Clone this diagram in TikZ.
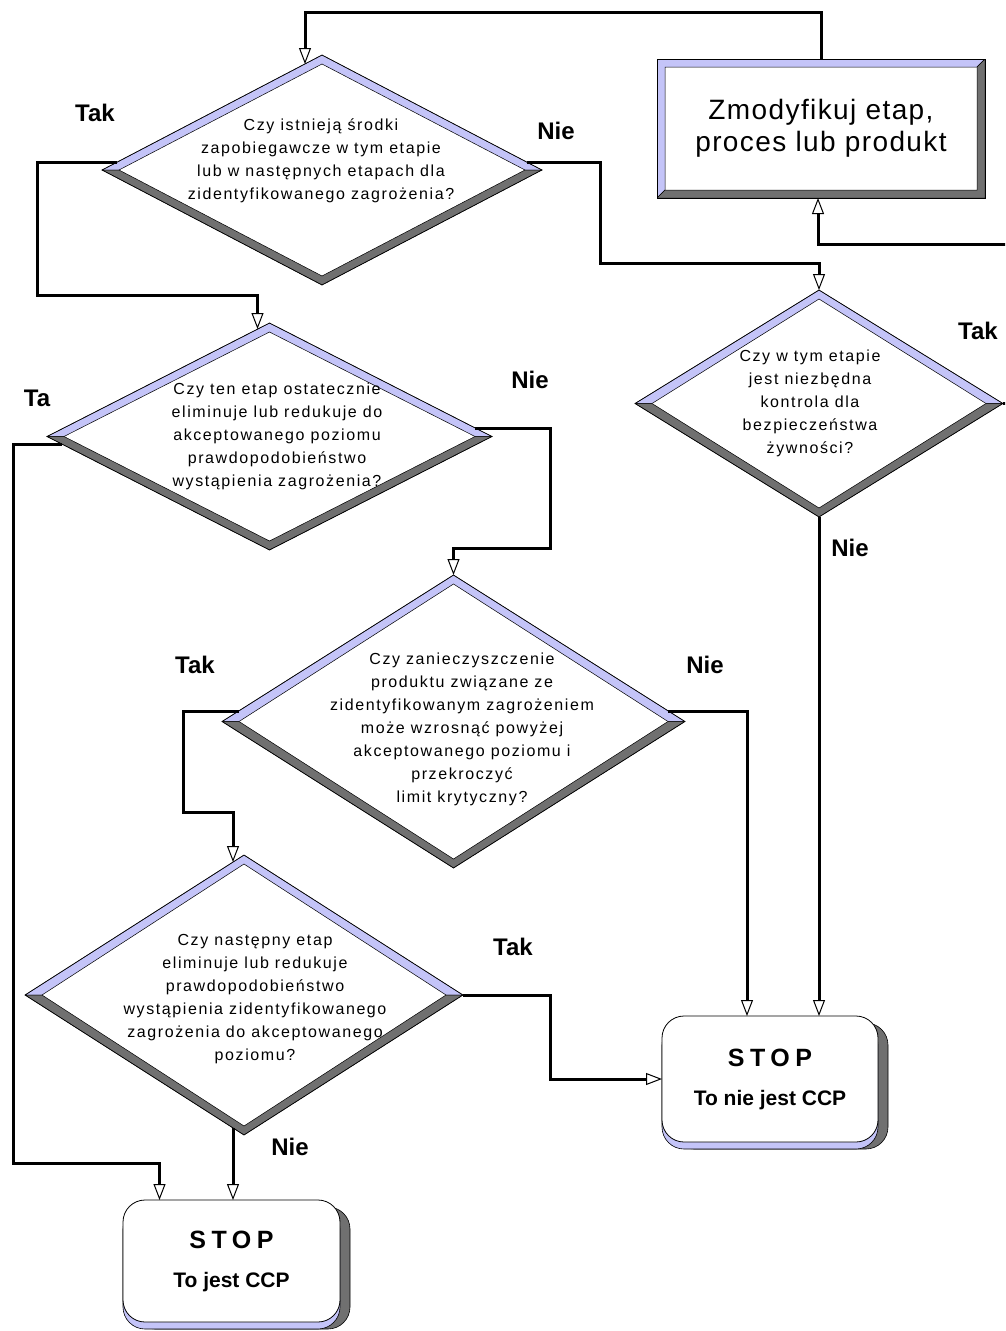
\documentclass[tikz,border=0pt]{standalone}
\usepackage{fontspec}
\setmainfont{Liberation Sans}
\newfontfamily\qfont[LetterSpace=10]{Liberation Sans}
\newfontfamily\boxfont[LetterSpace=5]{Liberation Sans}
\newfontfamily\stopfont[LetterSpace=22]{Liberation Sans}
\usetikzlibrary{arrows.meta, shapes.geometric, calc, positioning}
\definecolor{bevelBlue}{HTML}{C4C4F8}
\definecolor{bevelGrey}{HTML}{707070}
\tikzset{
  flow/.style     = {-{Triangle[open, length=16pt, width=12pt, line width=1pt]},
                     line width=3pt, black},
  decision/.style = {diamond, draw=black, line width=0.7pt, fill=white,
                     inner sep=0pt, outer sep=0pt,
                     path picture={
                       \path (path picture bounding box.north) coordinate (dN)
                             (path picture bounding box.east)  coordinate (dE)
                             (path picture bounding box.south) coordinate (dS)
                             (path picture bounding box.west)  coordinate (dW);
                       \filldraw[fill=bevelBlue, draw=black, line width=0.5pt]
                         (dW) -- (dN) -- (dE) -- ([xshift=-17pt]dE)
                         -- ([yshift=-9pt]dN) -- ([xshift=17pt]dW) -- cycle;
                       \filldraw[fill=bevelGrey, draw=black, line width=0.5pt]
                         (dW) -- (dS) -- (dE) -- ([xshift=-17pt]dE)
                         -- ([yshift=9pt]dS) -- ([xshift=17pt]dW) -- cycle;}},
  modbox/.style   = {rectangle, draw=black, line width=0.7pt, fill=white,
                     inner sep=0pt, outer sep=0pt, align=center,
                     font=\boxfont\fontsize{28}{32}\selectfont,
                     path picture={
                       \path (path picture bounding box.north west) coordinate (bNW)
                             (path picture bounding box.north east) coordinate (bNE)
                             (path picture bounding box.south east) coordinate (bSE)
                             (path picture bounding box.south west) coordinate (bSW);
                       \filldraw[fill=bevelBlue, draw=black, line width=0.5pt]
                         (bSW) -- (bNW) -- (bNE) -- ([shift={(-8pt,-8pt)}]bNE)
                         -- ([shift={(8pt,-8pt)}]bNW) -- ([shift={(8pt,8pt)}]bSW) -- cycle;
                       \filldraw[fill=bevelGrey, draw=black, line width=0.5pt]
                         (bSW) -- (bSE) -- (bNE) -- ([shift={(-8pt,-8pt)}]bNE)
                         -- ([shift={(-8pt,8pt)}]bSE) -- ([shift={(8pt,8pt)}]bSW) -- cycle;}},
  stopbox/.style  = {rectangle, rounded corners=22pt, draw=black, line width=0.8pt,
                     fill=white, inner sep=0pt, outer sep=0pt, align=center,
                     font=\fontsize{25}{28}\selectfont,
                     preaction={draw=black, line width=0.6pt, fill=bevelGrey,
                                transform canvas={shift={(10pt,-7pt)}}},
                     preaction={draw=black, line width=0.6pt, fill=bevelBlue,
                                transform canvas={shift={(0pt,-7pt)}}}},
  qtext/.style    = {font=\qfont\fontsize{16}{23}\selectfont, align=center, inner sep=0pt},
  lbl/.style      = {font=\bfseries\fontsize{24}{28}\selectfont, inner sep=0pt},
}

\begin{document}
\begin{tikzpicture}[x=1pt, y=-1pt]
  \fill[white] (0,0) rectangle (1005,1331);
  \useasboundingbox (0,0) rectangle (1005,1331);
  \clip (0,0) rectangle (1005,1331);

  % decisions
  \node[decision, minimum width=440pt, minimum height=230pt] (q1) at (322,170) {};
  \node[decision, minimum width=445pt, minimum height=227pt] (q2) at (269.5,436.5) {};
  \node[decision, minimum width=368pt, minimum height=227pt] (q3) at (819,403.5) {};
  \node[decision, minimum width=463pt, minimum height=293pt] (q4) at (453.5,721.5) {};
  \node[decision, minimum width=438pt, minimum height=280pt] (q5) at (244,995) {};

  \node[qtext] (q1txt) at (321,161) {Czy istnieją środki\\zapobiegawcze w tym etapie\\
    lub w  następnych etapach dla\\zidentyfikowanego zagrożenia?};
  \node[qtext] (q2txt) at (277,436.5) {Czy ten etap ostatecznie\\eliminuje lub redukuje do\\
    akceptowanego poziomu\\prawdopodobieństwo\\wystąpienia zagrożenia?};
  \node[qtext] (q3txt) at (810,403) {Czy w tym etapie\\jest niezbędna\\kontrola dla\\
    bezpieczeństwa\\żywności?};
  \node[qtext] (q4txt) at (462,729) {Czy zanieczyszczenie\\produktu związane ze\\
    zidentyfikowanym zagrożeniem\\może wzrosnąć powyżej\\akceptowanego poziomu i\\
    przekroczyć\\limit krytyczny?};
  \node[qtext] (q5txt) at (255,999) {Czy następny etap\\eliminuje lub redukuje\\
    prawdopodobieństwo\\wystąpienia zidentyfikowanego\\zagrożenia do akceptowanego\\
    poziomu?};

  % actions and ends
  \node[modbox, minimum width=328pt, minimum height=139pt] (mod) at (821,128.5)
    {Zmodyfikuj etap,\\proces lub produkt};
  \node[stopbox, minimum width=216pt, minimum height=126pt] (stop1) at (770,1079)
    {{\stopfont\bfseries STOP}\\[11pt]
     {\bfseries\fontsize{21}{24}\selectfont To nie jest CCP}};
  \node[stopbox, minimum width=217pt, minimum height=122pt] (stop2) at (231.5,1261)
    {{\stopfont\bfseries STOP}\\[11pt]
     {\bfseries\fontsize{21}{24}\selectfont To jest CCP}};

  % connectors
  \draw[flow] (mod.north) -- ++(0,-47) -| ($(q1.north)+(-17,9)$);
  \draw[flow] ($(q1.west)+(15,-8)$) -| (37,295) -| ($(q2.north)+(-12,6)$);
  \draw[flow] ($(q1.east)+(-15,-8)$) -| (600,263) -| (q3.north);
  \draw[flow] (q3.east) -- ++(30,0) |- ($(mod.south)+(-3,46)$) -- ($(mod.south)+(-3,0)$);
  \draw[flow] (q3.south) -- (q3.south |- stop1.north);
  \draw[flow] ($(q2.west)+(15,7.5)$) -| (13,1163) -| ($(stop2.north)+(-72,0)$);
  \draw[flow] ($(q2.east)+(-17,-8.5)$) -| (550,548) -| (q4.north);
  \draw[flow] ($(q4.west)+(17,-10.5)$) -| (183,812) -| ($(q5.north)+(-11,7)$);
  \draw[flow] ($(q4.east)+(-17,-10.5)$) -| ($(stop1.north)+(-23,0)$);
  \draw[flow] (q5.east) -| (550,1079) -- (stop1.west);
  \draw[flow] ($(q5.south)+(-11,-7)$) coordinate (n5) -- (n5 |- stop2.north);

  % answers
  \node[lbl] (t1) at (95,113) {Tak};
  \node[lbl] (n1) at (556,131) {Nie};
  \node[lbl] (t3) at (978,331) {Tak};
  \node[lbl] (t2) at (37,398) {Ta};
  \node[lbl] (n2) at (530,380) {Nie};
  \node[lbl] (n3) at (850,548) {Nie};
  \node[lbl] (t4) at (195,665) {Tak};
  \node[lbl] (n4) at (705,665) {Nie};
  \node[lbl] (t5) at (513,947) {Tak};
  \node[lbl] (n5l) at (290,1147) {Nie};
\end{tikzpicture}
\end{document}
